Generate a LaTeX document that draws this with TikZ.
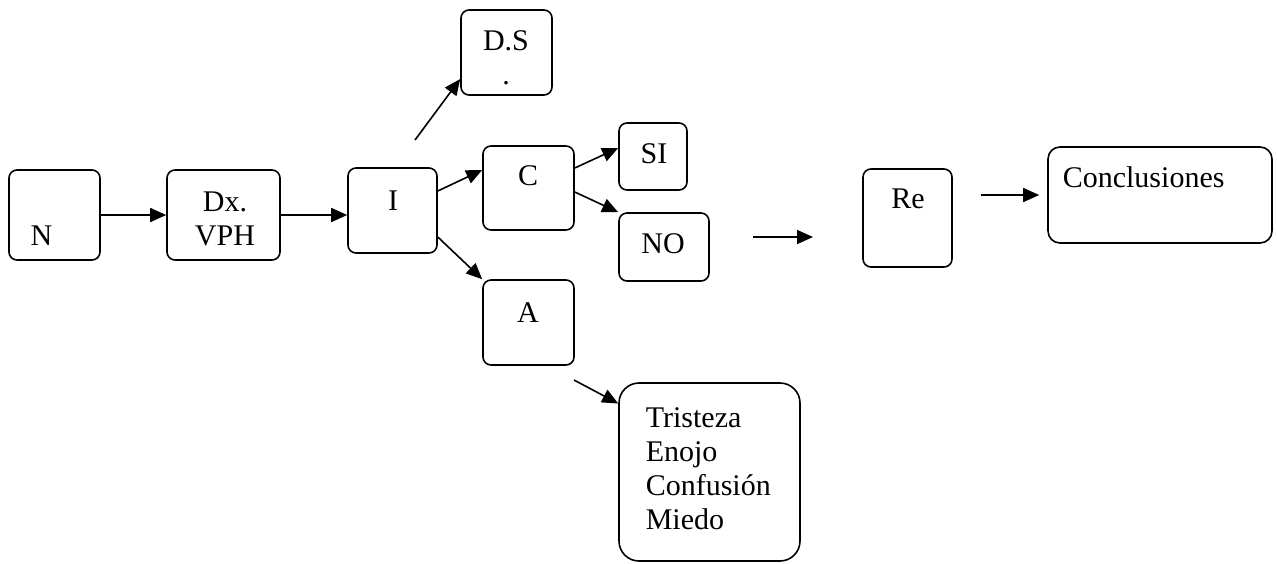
\documentclass[tikz,border=0pt]{standalone}
\usepackage{fontspec}
\setmainfont{Liberation Serif}
\usetikzlibrary{arrows.meta}

\begin{document}
\begin{tikzpicture}[x=0.5pt, y=-0.5pt, line width=0.8pt,
		caja/.style={draw, rounded corners=4pt, inner sep=0pt},
		txt/.style={inner sep=0pt, anchor=base, font=\fontsize{15}{17}\selectfont},
		flecha/.style={-{Triangle[length=8pt, width=7pt]}}]
			%%%%% START %%%%%
			\useasboundingbox (0, 0) rectangle (1277, 563);
			
			\node[caja, minimum width=45.5pt, minimum height=45pt] (n) at (54.5, 215) {};
			\node[txt] (tn) at (41.5, 245) {N};
			
			\node[caja, minimum width=56.5pt, minimum height=45pt] (dx) at (223.5, 215) {};
			\node[txt, align=center] (tdx) at (225, 245) {Dx.\\VPH};
			
			\node[caja, minimum width=44.5pt, minimum height=42.5pt] (i) at (392.5, 210.5) {};
			\node[txt] (ti) at (393, 210) {I};
			
			\node[caja, minimum width=45.5pt, minimum height=42.5pt] (ds) at (506.5, 52.5) {};
			\node[txt, align=center] (tds) at (506, 84) {D.S\\.};
			
			\node[caja, minimum width=45.5pt, minimum height=42pt] (c) at (528.5, 188) {};
			\node[txt] (tc) at (528, 185) {C};
			
			\node[caja, minimum width=34pt, minimum height=33.5pt] (si) at (653, 156.5) {};
			\node[txt] (tsi) at (654, 163) {SI};
			
			\node[caja, minimum width=45pt, minimum height=34pt] (no) at (664, 247) {};
			\node[txt] (tno) at (663, 253) {NO};
			
			\node[caja, minimum width=45.5pt, minimum height=42.5pt] (a) at (528.5, 322.5) {};
			\node[txt] (ta) at (528, 322) {A};
			
			\node[caja, rounded corners=10pt, minimum width=90.5pt, minimum height=89pt] (emo) at (709.5, 472) {};
			\node[txt, anchor=base west, align=left] (temo) at (645, 529) {Tristeza\\Enojo\\Confusión\\Miedo};
			
			\node[caja, minimum width=44.5pt, minimum height=49pt] (re) at (907.5, 218) {};
			\node[txt] (tre) at (908, 208) {Re};
			
			\node[caja, rounded corners=6pt, minimum width=112pt, minimum height=48pt] (concl) at (1160, 195) {};
			\node[txt, anchor=base west] (tconcl) at (1062, 187) {Conclusiones};
			
			% flechas
			\coordinate (dsfrom) at (415, 140);
			\coordinate (afrom) at (574, 380);
			\coordinate (sola1) at (753, 237);
			\coordinate (sola2) at (813, 237);
			
			\draw[flecha] (n) -- (dx);
			\draw[flecha] (dx.east) -- (dx.east -| i.west);
			\draw[flecha] (dsfrom) -- ([yshift=-13.25pt]ds.west);
			\draw[flecha] ([yshift=9.75pt]i.east) -- ([yshift=9pt]c.west);
			\draw[flecha] ([yshift=-13.25pt]i.east) -- (a.north west);
			\draw[flecha] ([yshift=10pt]c.east) -- ([yshift=4.25pt]si.west);
			\draw[flecha] ([yshift=-2pt]c.east) -- (no.north west);
			\draw[flecha] (afrom) -- ([yshift=34.25pt]emo.west);
			\draw[flecha] (sola1) -- (sola2);
			\draw[flecha, shorten <=14pt, shorten >=4pt] (re.east |- concl) -- (concl.west);
			
			%%%%% END %%%%%
		\end{tikzpicture}
\end{document}
